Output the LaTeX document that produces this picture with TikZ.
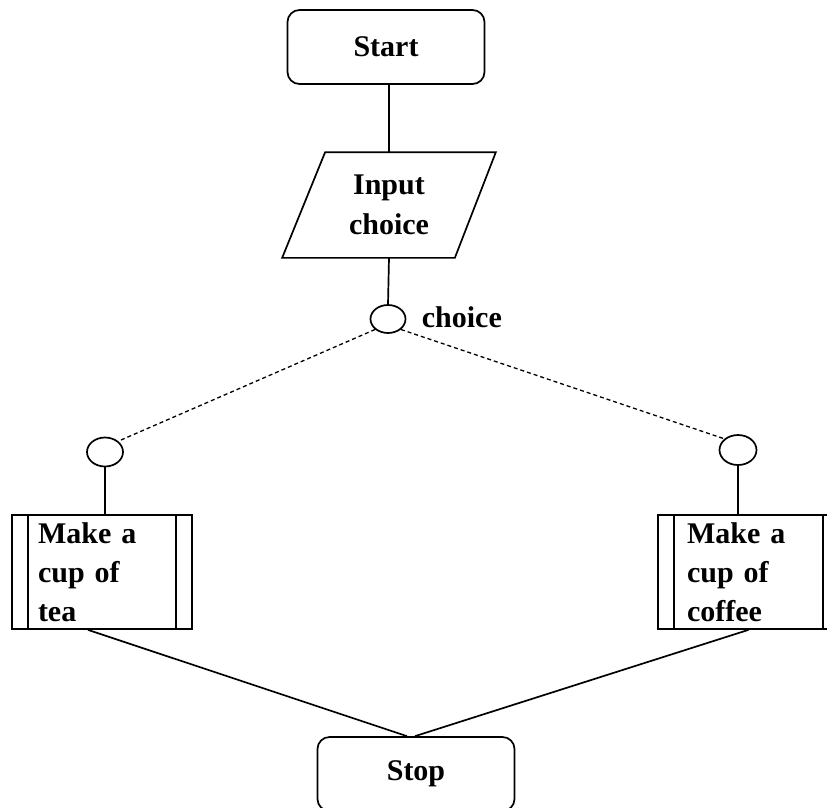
\documentclass[tikz,border=0pt]{standalone}
\usepackage{fontspec}
\setmainfont{Liberation Serif}
\usetikzlibrary{shapes.geometric}
\begin{document}
\begin{tikzpicture}[x=1pt,y=-1pt,
  line width=1.7pt,
  txt/.style={font=\fontsize{30}{39}\selectfont\bfseries},
  terminal/.style={txt,draw,rounded corners=12pt,minimum width=197pt,minimum height=74pt,inner sep=0pt},
  ioshape/.style={txt,minimum width=170pt,minimum height=104pt,inner sep=0pt,align=center},
  joint/.style={draw,ellipse,inner sep=0pt},
  subproc/.style={txt,draw,minimum height=114pt,inner ysep=0pt,align=left},
  dashedline/.style={dash pattern=on 4pt off 3pt,line width=1.3pt}]
\useasboundingbox (0,0) rectangle (827,807);
\clip (0,0) rectangle (827,807);
\fill[white] (0,0) rectangle (827,807);

\node[terminal] (start) at (386,47) {Start};
\node[ioshape] (input) at (389,205) {Input\\[1pt]choice};
\draw ([xshift=22pt]input.north west) -- ([xshift=21pt]input.north east)
      -- ([xshift=-20pt]input.south east) -- ([xshift=-21pt]input.south west) -- cycle;

\node[joint,minimum width=35pt,minimum height=28pt] (c0) at (388,319) {};
\node[txt,anchor=west,inner sep=0pt] (lblchoice) at (421,317) {choice};

\node[joint,minimum width=36pt,minimum height=29pt] (cL) at (105,452) {};
\node[joint,minimum width=37pt,minimum height=30pt] (cR) at (738,450) {};

\node[subproc,text width=128pt,inner xsep=26pt] (tea) at (102,572) {Make a\\cup of\\tea};
\draw ([xshift=17pt]tea.north west) -- ([xshift=17pt]tea.south west);
\draw ([xshift=-17pt]tea.north east) -- ([xshift=-17pt]tea.south east);

\node[subproc,text width=123pt,inner xsep=29pt] (coffee) at (748.5,572) {Make a\\cup of\\coffee};
\draw ([xshift=17pt]coffee.north west) -- ([xshift=17pt]coffee.south west);
\draw ([xshift=-17pt]coffee.north east) -- ([xshift=-17pt]coffee.south east);

\node[terminal] (stop) at (416,774) {Stop};

% connectors
\draw (input.north |- start.south) -- (input.north);
\draw (input.south) -- (c0.north);
\draw[dashedline] (c0.south west) -- (cL.north east);
\draw[dashedline] (c0.south east) -- (cR.north west);
\draw (cL.south) -- (cL.south |- tea.north);
\draw (cR.south) -- (cR.south |- coffee.north);
\draw ([xshift=-14pt]tea.south) -- ([xshift=-9pt]stop.north);
\draw (coffee.south) -- ([xshift=-1pt]stop.north);
\end{tikzpicture}
\end{document}
